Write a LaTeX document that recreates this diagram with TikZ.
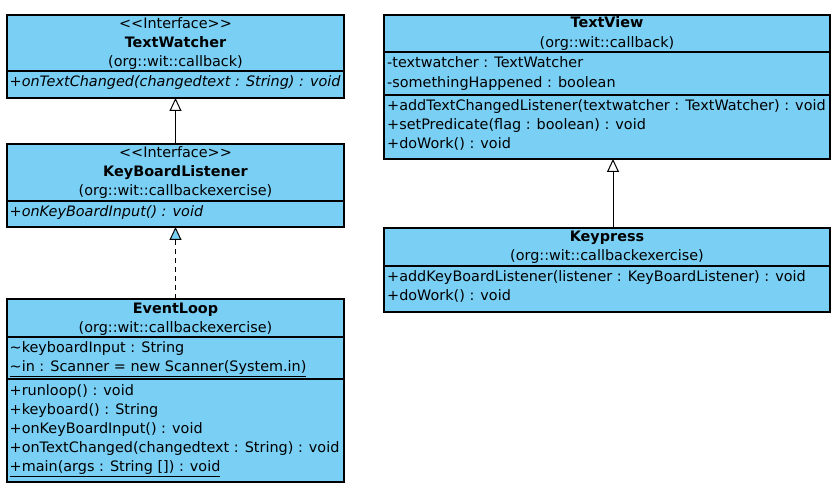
\documentclass[tikz,border=0pt]{standalone}
\usepackage{fontspec}
\setmainfont{DejaVu Sans}
\usetikzlibrary{arrows.meta,calc}
\definecolor{umlblue}{RGB}{122,207,245}
\newcommand{\umlfs}{\fontsize{14.4}{17}\selectfont}
\begin{document}
\begin{tikzpicture}[x=1pt,y=-1pt,
  umlbox/.style={draw=black, fill=umlblue, line width=1.2pt, anchor=north west, inner sep=0pt, outer sep=0pt},
  sep/.style={draw=black, line width=1.2pt},
  hdr/.style={anchor=base, inner sep=0pt, font=\umlfs},
  ttl/.style={hdr, font=\umlfs\bfseries},
  mem/.style={anchor=base west, inner sep=0pt, font=\umlfs},
  absmem/.style={mem, font=\umlfs\itshape},
  gen/.style={draw=black, line width=1pt, -{Triangle[open, width=12pt, length=13pt, line width=1pt]}},
  real/.style={draw=black, line width=1pt, dash pattern=on 5pt off 4pt, -{Triangle[fill=umlblue, width=12pt, length=13pt, line width=1pt]}}
]
\useasboundingbox (0,0) rectangle (838,489);

% TextWatcher
\node[umlbox, minimum width=337pt, minimum height=83pt] (tw) at (7,15) {};
\draw[sep] (tw.west |- 0,71) -- (tw.east |- 0,71);
\node[hdr] (tw1) at (175.5,28.5) {<{}<Interface>{}>};
\node[ttl] (tw2) at (175.5,47.5) {TextWatcher};
\node[hdr] (tw3) at (175.5,66.5) {(org::wit::callback)};
\node[absmem] (tw4) at (9.5,86.5) {+onTextChanged(changedtext : String) : void};

% KeyBoardListener
\node[umlbox, minimum width=337pt, minimum height=83pt] (kbl) at (7,144) {};
\draw[sep] (kbl.west |- 0,201) -- (kbl.east |- 0,201);
\node[hdr] (kbl1) at (175.5,157.5) {<{}<Interface>{}>};
\node[ttl] (kbl2) at (175.5,176.5) {KeyBoardListener};
\node[hdr] (kbl3) at (175.5,195.5) {(org::wit::callbackexercise)};
\node[absmem] (kbl4) at (9.5,216.5) {+onKeyBoardInput() : void};

% EventLoop
\node[umlbox, minimum width=337pt, minimum height=183pt] (el) at (7,299) {};
\draw[sep] (el.west |- 0,337) -- (el.east |- 0,337);
\draw[sep] (el.west |- 0,379) -- (el.east |- 0,379);
\node[ttl] (el1) at (175.5,313.5) {EventLoop};
\node[hdr] (el2) at (175.5,332.5) {(org::wit::callbackexercise)};
\node[mem] (el3) at (9.5,352.5) {\textasciitilde keyboardInput : String};
\node[mem] (el4) at (9.5,371.5) {\underline{\textasciitilde in : Scanner = new Scanner(System.in)}};
\node[mem] (el5) at (9.5,395.5) {+runloop() : void};
\node[mem] (el6) at (9.5,414.5) {+keyboard() : String};
\node[mem] (el7) at (9.5,433.5) {+onKeyBoardInput() : void};
\node[mem] (el8) at (9.5,452.5) {+onTextChanged(changedtext : String) : void};
\node[mem] (el9) at (9.5,471.5) {\underline{+main(args : String []) : void}};

% TextView
\node[umlbox, minimum width=446pt, minimum height=144pt] (tv) at (384,15) {};
\draw[sep] (tv.west |- 0,52) -- (tv.east |- 0,52);
\draw[sep] (tv.west |- 0,95) -- (tv.east |- 0,95);
\node[ttl] (tv1) at (607,27.5) {TextView};
\node[hdr] (tv2) at (607,47.5) {(org::wit::callback)};
\node[mem] (tv3) at (387,67.5) {-textwatcher : TextWatcher};
\node[mem] (tv4) at (387,87.5) {-somethingHappened : boolean};
\node[mem] (tv5) at (387,110.5) {+addTextChangedListener(textwatcher : TextWatcher) : void};
\node[mem] (tv6) at (387,129.5) {+setPredicate(flag : boolean) : void};
\node[mem] (tv7) at (387,148.5) {+doWork() : void};

% Keypress
\node[umlbox, minimum width=446pt, minimum height=84pt] (kp) at (384,228) {};
\draw[sep] (kp.west |- 0,266) -- (kp.east |- 0,266);
\node[ttl] (kp1) at (607,241.5) {Keypress};
\node[hdr] (kp2) at (607,260.5) {(org::wit::callbackexercise)};
\node[mem] (kp3) at (387,281.5) {+addKeyBoardListener(listener : KeyBoardListener) : void};
\node[mem] (kp4) at (387,300.5) {+doWork() : void};

% connectors
\draw[gen] (kbl.north) -- (tw.south);
\draw[real] (el.north) -- (kbl.south);
\draw[gen] ($(kp.north)+(6,0)$) -- ($(tv.south)+(6,0)$);
\end{tikzpicture}
\end{document}
